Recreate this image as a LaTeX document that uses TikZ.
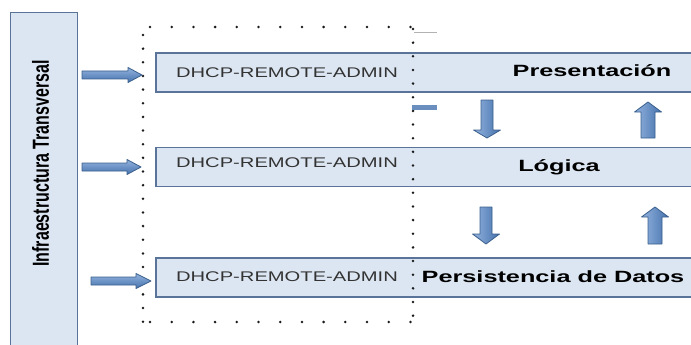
\documentclass[tikz,border=0pt]{standalone}
\usepackage{fontspec}
\setmainfont{Liberation Sans}
\usetikzlibrary{calc}
\definecolor{boxfill}{HTML}{DCE6F2}
\definecolor{boxline}{HTML}{5A7499}
\definecolor{arrline}{HTML}{3A5F8C}
\definecolor{arrtop}{HTML}{93B3DE}
\definecolor{arrbot}{HTML}{4572AD}
\definecolor{dotc}{HTML}{1A1A1A}
\newcommand{\rarr}[4]{% tail x, tip x, centre y, head start x
  \draw[blockarr,top color=arrtop,bottom color=arrbot] (#1,#3-4) -- (#4,#3-4) -- (#4,#3-7.5) -- (#2,#3) -- (#4,#3+7.5) -- (#4,#3+4) -- (#1,#3+4) -- cycle;}
\newcommand{\darr}[4]{% centre x, top y, tip y, head start y
  \draw[blockarr,left color=arrtop,right color=arrbot] (#1-6,#2) -- (#1+6,#2) -- (#1+6,#4) -- (#1+13.5,#4) -- (#1,#3) -- (#1-13.5,#4) -- (#1-6,#4) -- cycle;}
\newcommand{\uarr}[4]{% centre x, tip y, bottom y, head end y
  \draw[blockarr,left color=arrtop,right color=arrbot] (#1-7,#3) -- (#1+7,#3) -- (#1+7,#4) -- (#1+13.5,#4) -- (#1,#2) -- (#1-13.5,#4) -- (#1-7,#4) -- cycle;}
\begin{document}
\begin{tikzpicture}[x=1pt,y=-1pt,
  blockarr/.style={draw=arrline,line width=0.8pt,line join=round},
  rowbox/.style={draw=boxline,fill=boxfill,line width=1.4pt,minimum width=544pt,minimum height=39pt,inner sep=0pt},
  dhcp/.style={inner sep=0pt,text=black!80,font=\fontsize{14}{16}\selectfont},
  layer/.style={inner sep=0pt,text=black,font=\bfseries\fontsize{16.3}{18}\selectfont},
  dotrow/.style={dotc,line width=2.8pt,line cap=round,dash pattern=on 0pt off 21.7pt},
  dotcol/.style={dotc,line width=2.8pt,line cap=round,dash pattern=on 0pt off 13.65pt}]
\useasboundingbox (0,0) rectangle (691,345);
\clip (0,0) rectangle (691,345);
% left column
\node[draw=boxline,fill=boxfill,line width=1.4pt,minimum width=67pt,minimum height=360pt,inner sep=0pt,anchor=north west] (infra) at (10,12) {};
\node[inner sep=0pt,rotate=90,font=\bfseries\fontsize{16}{18}\selectfont] (infralabel) at (40.5,163.5) {\scalebox{1}[1.45]{Infraestructura Transversal}};
% rows
\node[rowbox] (r1) at (428,72.5) {};
\node[rowbox] (r2) at (428,167) {};
\node[rowbox] (r3) at (428,277.5) {};
% dotted frame
\draw[dotrow] (150,27) -- (415,27);
\draw[dotrow] (150,322) -- (415,322);
\draw[dotcol] (143,35) -- (143,325);
\draw[dotcol] (413,29) -- (413,325);
% small marks
\draw[black!30,line width=1pt] (414,33) -- (437,33);
\fill[arrbot!80] (412,105) rectangle (437,109.5);
% texts
\node[dhcp] (d1) at (287,73) {\scalebox{1.44}[1]{DHCP-REMOTE-ADMIN}};
\node[dhcp] (d2) at (287,163) {\scalebox{1.44}[1]{DHCP-REMOTE-ADMIN}};
\node[dhcp] (d3) at (287,277) {\scalebox{1.44}[1]{DHCP-REMOTE-ADMIN}};
\node[layer] (l1) at (592,71) {\scalebox{1.55}[1]{Presentación}};
\node[layer] (l2) at (559,167) {\scalebox{1.55}[1]{Lógica}};
\node[layer] (l3) at (553,277) {\scalebox{1.55}[1]{Persistencia de Datos}};
% arrows from infra
\rarr{82}{142}{75}{128}
\rarr{82}{141}{167}{127}
\rarr{91}{151}{281}{136}
% vertical arrows
\darr{487}{100}{138}{130}
\darr{486}{207}{244}{234}
\uarr{648}{102}{138}{112}
\uarr{655}{207}{244}{217}
\end{tikzpicture}
\end{document}
